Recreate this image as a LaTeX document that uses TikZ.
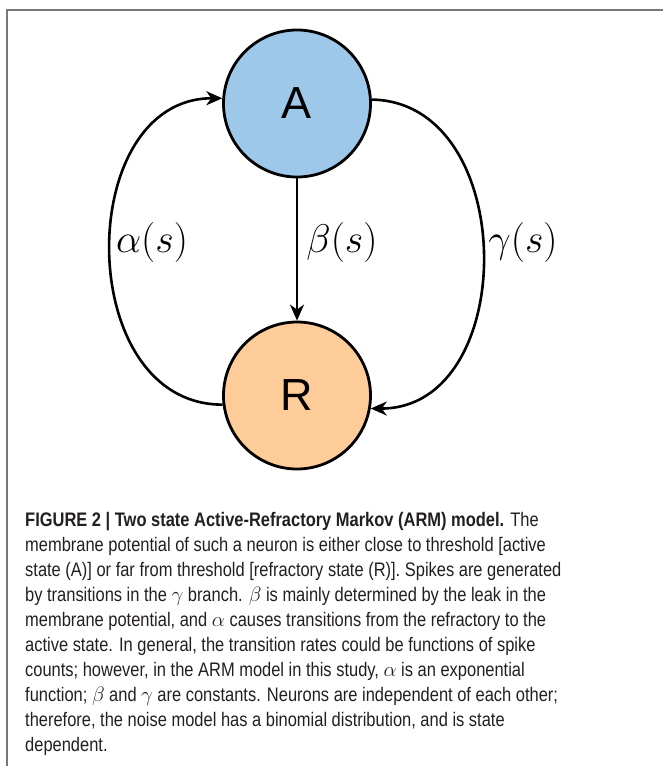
\documentclass[tikz,border=0pt]{standalone}
\usepackage{graphicx}
\usepackage{fontspec}
\newfontfamily\capfont[FakeStretch=0.84]{Liberation Sans}
\newfontfamily\circfont{Liberation Sans}
\usetikzlibrary{arrows.meta}
\definecolor{ablue}{RGB}{158,200,234}
\definecolor{rpeach}{RGB}{254,204,153}
\definecolor{framegray}{RGB}{120,120,120}
\definecolor{captext}{RGB}{35,31,32}
\newcommand{\ratelabel}[1]{\scalebox{1.608}{\Huge$#1$}}
\tikzset{
  statenode/.style={circle, draw, line width=2.8pt, minimum size=147pt, inner sep=0pt,
    font=\circfont\fontsize{45}{50}\selectfont},
  trans/.style={line width=2.6pt, -{Stealth[length=16pt,width=14pt,inset=5pt]}},
  rate/.style={inner sep=0pt},
  capline/.style={anchor=base west, inner sep=0pt, text=captext,
    font=\capfont\fontsize{19.6}{25}\selectfont},
}
\begin{document}
\begin{tikzpicture}[x=1pt,y=-1pt]
\useasboundingbox (0,0) rectangle (663,766);
\draw[framegray, line width=1.4pt] (7,766) -- (7,10) -- (663,10);

\node[statenode, fill=ablue] (A) at (297,103.5) {A};
\node[statenode, fill=rpeach] (R) at (297,395.5) {R};

\draw[trans] (A) -- (R);
\draw[trans] (R.187) .. controls (73,405) and (73,98) .. (A.176);
\draw[trans] (A.3) .. controls (520,102) and (520,409) .. (R.-10);

\node[rate] (la) at (152,242) {\ratelabel{\alpha(s)}};
\node[rate] (lb) at (342,242) {\ratelabel{\beta(s)}};
\node[rate] (lg) at (523,242) {\ratelabel{\gamma(s)}};

\node[capline] (c1) at (25,526) {\textbf{FIGURE 2 | Two state Active-Refractory Markov (ARM) model.} The};
\node[capline] (c2) at (25,551.1) {membrane potential of such a neuron is either close to threshold [active};
\node[capline] (c3) at (25,576.2) {state (A)] or far from threshold [refractory state (R)]. Spikes are generated};
\node[capline] (c4) at (25,601.3) {by transitions in the $\gamma$ branch. $\beta$ is mainly determined by the leak in the};
\node[capline] (c5) at (25,626.4) {membrane potential, and $\alpha$ causes transitions from the refractory to the};
\node[capline] (c6) at (25,651.5) {active state. In general, the transition rates could be functions of spike};
\node[capline] (c7) at (25,676.6) {counts; however, in the ARM model in this study, $\alpha$ is an exponential};
\node[capline] (c8) at (25,701.7) {function; $\beta$ and $\gamma$ are constants. Neurons are independent of each other;};
\node[capline] (c9) at (25,726.8) {therefore, the noise model has a binomial distribution, and is state};
\node[capline] (c10) at (25,751.9) {dependent.};
\end{tikzpicture}
\end{document}
